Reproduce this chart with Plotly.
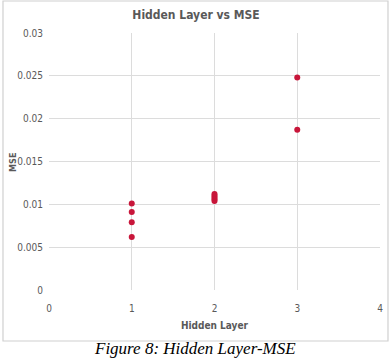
import plotly.graph_objects as go

hidden_layer = [1, 1, 1, 1, 2, 2, 2, 2, 2, 3, 3]
mse = [0.0101, 0.0091, 0.0079, 0.0062, 0.0104, 0.0106, 0.0108, 0.0110, 0.0112, 0.0248, 0.0187]

x_ticks = [0, 1, 2, 3, 4]
y_ticks = [0, 0.005, 0.01, 0.015, 0.02, 0.025, 0.03]
y_labels = ["0", "0.005", "0.01", "0.015", "0.02", "0.025", "0.03"]

font_family = "DejaVu Sans Condensed, Liberation Sans, Arial"
gray = "#595959"

fig = go.Figure()
fig.add_trace(go.Scatter(
    x=hidden_layer, y=mse, mode="markers",
    marker=dict(color="#c8163a", size=6),
    showlegend=False,
))

fig.update_layout(
    width=392, height=358,
    margin=dict(l=49, r=12, t=33, b=68),
    paper_bgcolor="white", plot_bgcolor="white",
    title=dict(text="<b>Hidden Layer vs MSE</b>", x=0.5, xanchor="center",
               y=1 - 15 / 358, yanchor="middle",
               font=dict(family=font_family, size=12, color=gray)),
    font=dict(family=font_family, size=10, color=gray),
    xaxis=dict(range=[0, 4], tickvals=x_ticks, ticktext=[str(v) for v in x_ticks],
               showgrid=True, gridcolor="#dcdcdc", gridwidth=1, automargin=False,
               zeroline=False, showline=False, ticks="", ticklabelstandoff=11,
               title=dict(text="<b>Hidden Layer</b>", standoff=8,
                          font=dict(family=font_family, size=10, color=gray)),
               tickfont=dict(size=10, color=gray), fixedrange=True),
    yaxis=dict(range=[0, 0.03], tickvals=y_ticks, ticktext=y_labels,
               showgrid=True, gridcolor="#dcdcdc", gridwidth=1, automargin=False,
               zeroline=False, showline=False, ticks="", ticklabelstandoff=5,
               tickfont=dict(size=10, color=gray), fixedrange=True),
)

# y-axis title
fig.add_annotation(text="<b>MSE</b>", xref="paper", yref="paper",
                   x=(13 - 49) / 331, y=(290 - 163) / 257, xanchor="center", yanchor="middle",
                   textangle=-90, showarrow=False,
                   font=dict(family=font_family, size=9, color=gray))

# outer chart border
fig.add_shape(type="rect", xref="paper", yref="paper",
              x0=-46 / 331, x1=1 + 8 / 331, y0=-51 / 257, y1=1 + 32 / 257,
              line=dict(color="#d0d0d0", width=1.2), fillcolor="rgba(0,0,0,0)")

fig.add_annotation(text="<i>Figure 8: Hidden Layer-MSE</i>", xref="paper", yref="paper",
                   x=(195 - 49) / 331, y=-(348 - 290) / 257, xanchor="center", yanchor="middle",
                   showarrow=False,
                   font=dict(family="Liberation Serif, Times New Roman", size=17, color="black"))

fig.write_html("out.html")
